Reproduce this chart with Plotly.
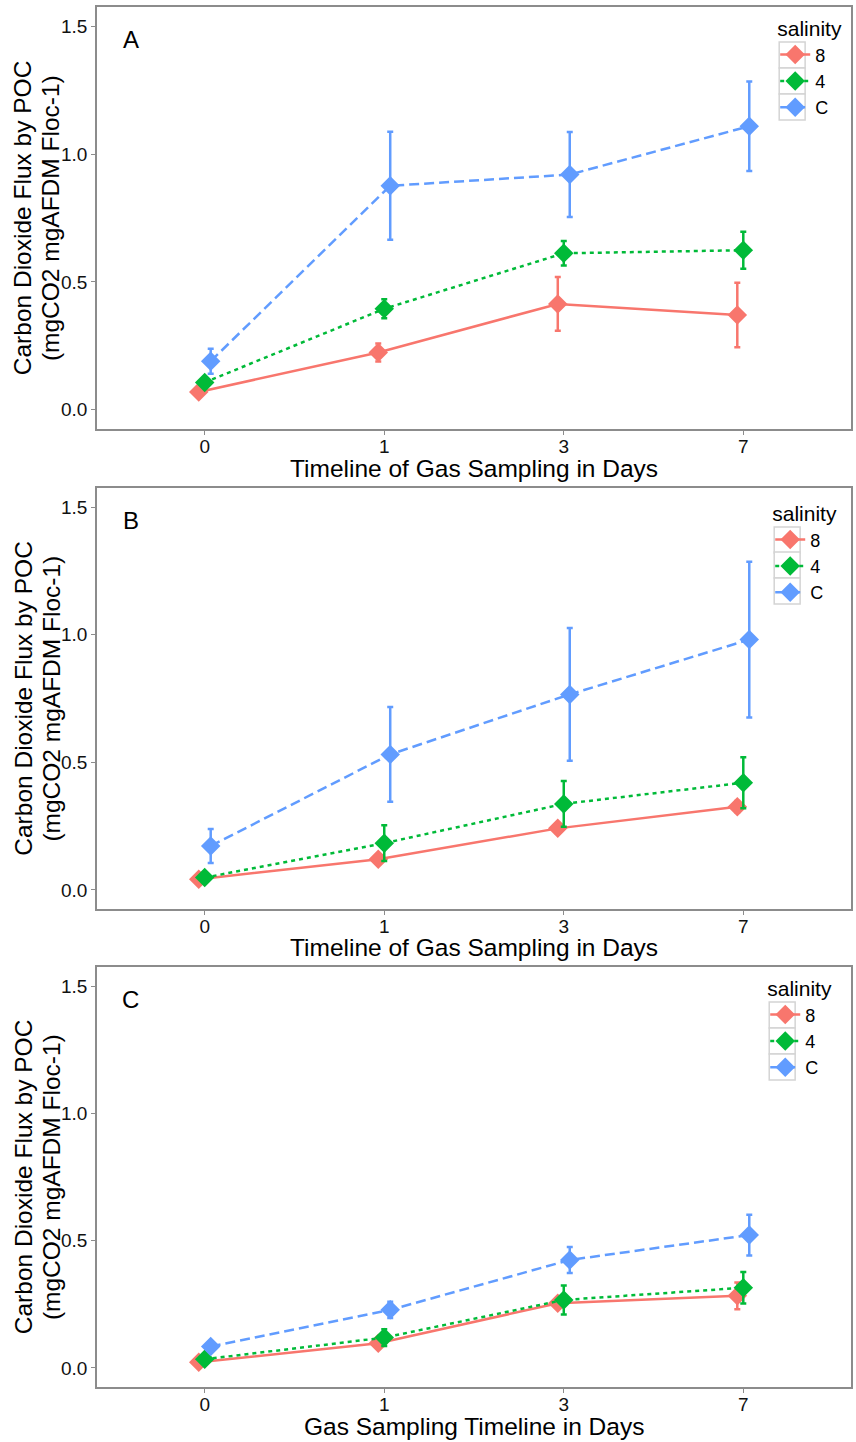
import plotly.graph_objects as go

# Sampling days (categorical x axis)
days = ["0", "1", "3", "7"]
salinity = ["8", "4", "C"]

# Panel A: means and standard errors
a_8 = [0.070, 0.224, 0.414, 0.371]
a_8_se = [0.010, 0.035, 0.105, 0.126]
a_4 = [0.107, 0.395, 0.612, 0.624]
a_4_se = [0.010, 0.037, 0.048, 0.072]
a_C = [0.190, 0.876, 0.920, 1.109]
a_C_se = [0.049, 0.211, 0.166, 0.175]

# Panel B
b_8 = [0.042, 0.120, 0.241, 0.326]
b_8_se = [0.010, 0.015, 0.020, 0.022]
b_4 = [0.048, 0.183, 0.337, 0.420]
b_4_se = [0.010, 0.070, 0.090, 0.100]
b_C = [0.172, 0.531, 0.766, 0.981]
b_C_se = [0.067, 0.186, 0.260, 0.305]

# Panel C
c_8 = [0.022, 0.097, 0.254, 0.283]
c_8_se = [0.010, 0.010, 0.015, 0.053]
c_4 = [0.034, 0.119, 0.267, 0.315]
c_4_se = [0.010, 0.033, 0.057, 0.062]
c_C = [0.084, 0.228, 0.424, 0.522]
c_C_se = [0.010, 0.032, 0.051, 0.080]

panel_labels = ["A", "B", "C"]
x_titles = [
    "Timeline of Gas Sampling in Days",
    "Timeline of Gas Sampling in Days",
    "Gas Sampling Timeline in Days",
]
y_title_lines = ["Carbon Dioxide Flux by POC", "(mgCO2 mgAFDM Floc-1)"]

panels = [
    [(a_8, a_8_se), (a_4, a_4_se), (a_C, a_C_se)],
    [(b_8, b_8_se), (b_4, b_4_se), (b_C, b_C_se)],
    [(c_8, c_8_se), (c_4, c_4_se), (c_C, c_C_se)],
]

colors = ["#F8766D", "#00BA38", "#619CFF"]
dashes = ["solid", "4px,4px", "10px,5px"]
dodge = 0.1  # total dodge width shared by the three groups
offsets = [-dodge / 3, 0.0, dodge / 3]

FONT = "Liberation Sans, Arial, sans-serif"
W, H = 856, 1442
M_L, M_R, M_T, M_B = 97, 3, 7, 55
plot_w = W - M_L - M_R
plot_h = H - M_T - M_B

# vertical pixel extents of each panel (top, bottom)
panel_px = [(7, 429), (488, 909), (967, 1387)]
# legend placement per panel: key centre x, top offset, key centre offsets
legend_key_x = [794, 789, 784]
legend_top = [2, 6, 2]
legend_keys_dy = [[48, 74, 100], [52, 77, 103], [48, 74, 100]]
KEY = 26


def py2paper(py):
    return (H - M_B - py) / plot_h


def px2paper(px):
    return (px - M_L) / plot_w


fig = go.Figure()

for p, series in enumerate(panels):
    sfx = "" if p == 0 else str(p + 1)
    leg = "legend" if p == 0 else f"legend{p + 1}"
    for s, (vals, se) in enumerate(series):
        xs = [i + 1 + offsets[s] for i in range(len(days))]
        fig.add_trace(go.Scatter(
            x=xs, y=vals,
            mode="lines+markers",
            name=salinity[s],
            legend=leg,
            xaxis="x" + sfx, yaxis="y" + sfx,
            line=dict(color=colors[s], width=2.5, dash=dashes[s]),
            marker=dict(symbol="diamond", size=15, color=colors[s]),
            error_y=dict(type="data", array=se, visible=True,
                         color=colors[s], thickness=2.5, width=3),
        ))

layout = dict(
    width=W, height=H,
    margin=dict(l=M_L, r=M_R, t=M_T, b=M_B),
    paper_bgcolor="white", plot_bgcolor="white",
    font=dict(family=FONT, color="black"),
    annotations=[], shapes=[], showlegend=True,
)

for p in range(3):
    sfx = "" if p == 0 else str(p + 1)
    top, bot = panel_px[p]
    dom = [py2paper(bot), py2paper(top)]
    axis_common = dict(
        showgrid=False, zeroline=False,
        showline=True, mirror=True, linecolor="#8c8c8c", linewidth=1.5,
        ticks="outside", ticklen=4, tickwidth=1, tickcolor="#8c8c8c",
        tickfont=dict(size=19, color="#111111", family=FONT),
    )
    layout["xaxis" + sfx] = dict(
        domain=[0, 1], anchor="y" + sfx, range=[0.4, 4.6],
        tickvals=[1, 2, 3, 4], ticktext=days, ticklabelstandoff=-5,
        **axis_common,
    )
    layout["yaxis" + sfx] = dict(
        domain=dom, anchor="x" + sfx, range=[-0.075, 1.575],
        tickvals=[0, 0.5, 1.0, 1.5], tickformat=".1f",
        **axis_common,
    )
    leg = "legend" if p == 0 else f"legend{p + 1}"
    layout[leg] = dict(
        x=px2paper(legend_key_x[p] - 17), xanchor="left",
        y=py2paper(top + legend_top[p]), yanchor="top",
        title=dict(text="salinity", font=dict(size=21, family=FONT)),
        font=dict(size=18, family=FONT),
        bgcolor="rgba(0,0,0,0)", borderwidth=0,
        itemwidth=30, tracegroupgap=0,
    )
    # grey key boxes around legend symbols
    for dy in legend_keys_dy[p]:
        cx, cy = legend_key_x[p], top + dy
        layout["shapes"].append(dict(
            type="rect", xref="paper", yref="paper", layer="below",
            x0=px2paper(cx - KEY / 2), x1=px2paper(cx + KEY / 2),
            y0=py2paper(cy + KEY / 2), y1=py2paper(cy - KEY / 2),
            line=dict(color="#d4d4d4", width=1.5), fillcolor="white",
        ))
    layout["annotations"] += [
        dict(text=panel_labels[p], xref="x" + sfx + " domain", yref="y" + sfx + " domain",
             x=0.045, y=0.922, xanchor="center", yanchor="middle",
             showarrow=False, font=dict(size=24, family=FONT)),
        dict(text=x_titles[p], xref="paper", yref="paper",
             x=0.5, y=dom[0], xanchor="center", yanchor="middle", yshift=-39,
             showarrow=False, font=dict(size=24.5, family=FONT)),
    ]
    for k, (line, cx) in enumerate(zip(y_title_lines, [23, 51])):
        layout["annotations"].append(dict(
            text=line, xref="paper", yref="paper",
            x=px2paper(cx), y=(dom[0] + dom[1]) / 2,
            xanchor="center", yanchor="middle", textangle=-90,
            showarrow=False, font=dict(size=24.5, family=FONT)))

fig.update_layout(layout)
fig.write_html("out.html")
